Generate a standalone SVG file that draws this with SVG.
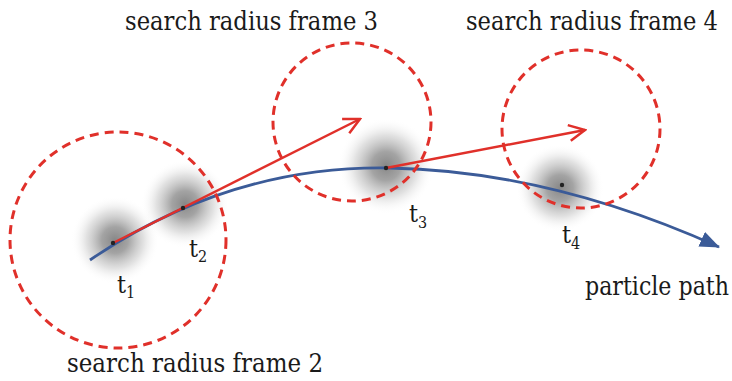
<svg xmlns="http://www.w3.org/2000/svg" width="732" height="381" viewBox="0 0 732 381">
<style>
.lbl{font-family:"DejaVu Serif Condensed","DejaVu Serif",serif;font-size:26px;fill:#1a1a1a}
.t{font-family:"DejaVu Serif Condensed","DejaVu Serif",serif;font-size:25px;fill:#1a1a1a}
.sub{font-size:16px}
.circ{fill:none;stroke:#e0302a;stroke-width:3;stroke-dasharray:9 6}
.red{fill:none;stroke:#e0302a;stroke-width:2.5}
.blue{fill:none;stroke:#3b5b98;stroke-width:2.8}
.blob{fill:url(#g)}
.dot{fill:#222}
</style>
<defs>
<radialGradient id="g">
<stop offset="0" stop-color="#7a7a7a" stop-opacity="0.9"/>
<stop offset="0.3" stop-color="#858585" stop-opacity="0.75"/>
<stop offset="0.65" stop-color="#aaaaaa" stop-opacity="0.35"/>
<stop offset="1" stop-color="#ffffff" stop-opacity="0"/>
</radialGradient>
<marker id="ra" viewBox="0 0 20 20" refX="18" refY="10" markerWidth="20" markerHeight="20" markerUnits="userSpaceOnUse" orient="auto">
<path d="M2,2 L18,10 L2,18" fill="none" stroke="#e0302a" stroke-width="2.5"/>
</marker>
<marker id="ba" viewBox="0 0 20 16" refX="19" refY="8" markerWidth="20" markerHeight="16" markerUnits="userSpaceOnUse" orient="auto">
<path d="M0,0 L20,8 L0,16 Z" fill="#3b5b98"/>
</marker>
</defs>
<g id="blobs">
<circle class="blob" cx="115" cy="240" r="44"/>
<circle class="blob" cx="185" cy="204" r="44"/>
<circle class="blob" cx="386" cy="166" r="48"/>
<circle class="blob" cx="560" cy="188" r="44"/>
</g>
<g id="connectors">
<path id="particle-path" class="blue" d="M90,260 Q230,165 390,168 Q550,171 719,247" marker-end="url(#ba)"/>
<path id="vec1" class="red" d="M113,243 L360,119" marker-end="url(#ra)"/>
<path id="vec2" class="red" d="M386,168 L585,130" marker-end="url(#ra)"/>
</g>
<g id="frame2"><circle class="circ" cx="118" cy="240" r="108"/>
<text class="lbl" x="67" y="372" textLength="256" lengthAdjust="spacingAndGlyphs">search radius frame 2</text></g>
<g id="frame3"><circle class="circ" cx="352" cy="122" r="79"/>
<text class="lbl" x="125" y="30" textLength="253" lengthAdjust="spacingAndGlyphs">search radius frame 3</text></g>
<g id="frame4"><circle class="circ" cx="581" cy="129" r="79"/>
<text class="lbl" x="466" y="30" textLength="252" lengthAdjust="spacingAndGlyphs">search radius frame 4</text></g>
<g id="t1"><circle class="dot" cx="113" cy="243" r="2.2"/><text class="t" x="117" y="293">t<tspan class="sub" dy="5">1</tspan></text></g>
<g id="t2"><circle class="dot" cx="183" cy="208" r="2.2"/><text class="t" x="189" y="257">t<tspan class="sub" dy="5">2</tspan></text></g>
<g id="t3"><circle class="dot" cx="386" cy="168" r="2.2"/><text class="t" x="409" y="222">t<tspan class="sub" dy="6">3</tspan></text></g>
<g id="t4"><circle class="dot" cx="562" cy="185" r="2.2"/><text class="t" x="562" y="243">t<tspan class="sub" dy="6">4</tspan></text></g>
<g id="path-label"><text class="lbl" x="729" y="295" text-anchor="end" textLength="144" lengthAdjust="spacingAndGlyphs">particle path</text></g>
</svg>
